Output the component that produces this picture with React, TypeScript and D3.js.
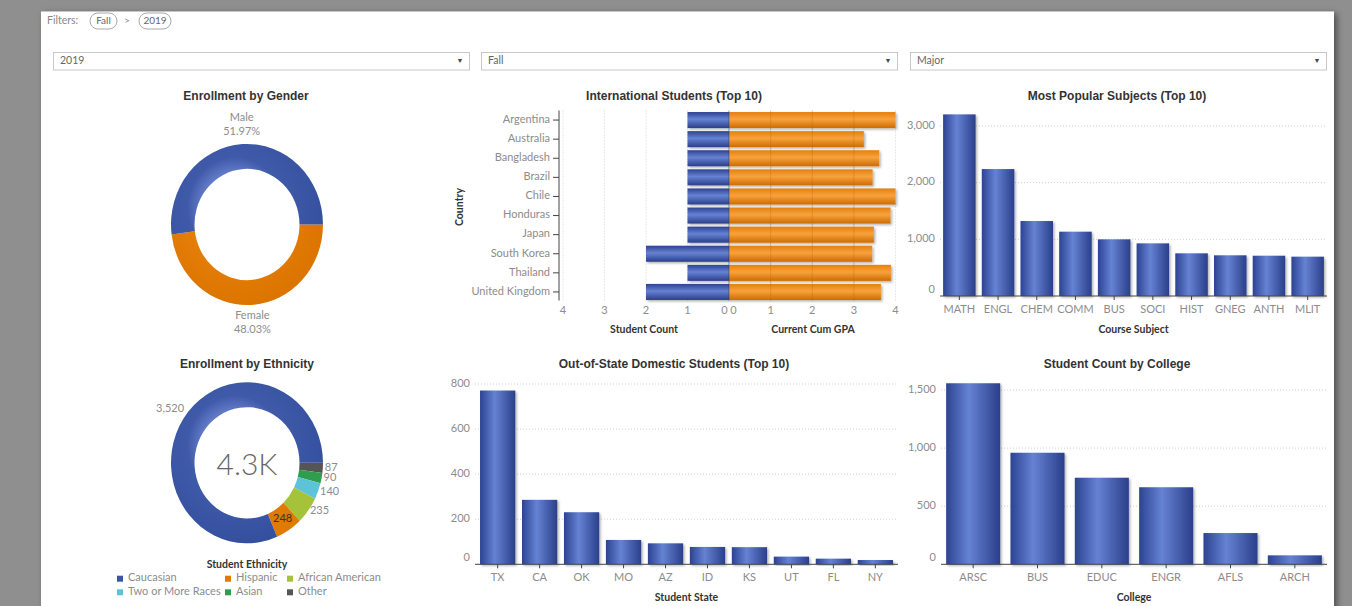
import * as d3 from "d3";

const W = 1352;
const H = 606;

// ---- data ----
const genderNames = ["Female", "Male"];
const genderShares = [48.03, 51.97];

const ethnicityNames = ["Other", "Asian", "Two or More Races", "African American", "Hispanic", "Caucasian"];
const ethnicityCounts = [87, 90, 140, 235, 248, 3520];
const ethnicityLegend = ["Caucasian", "Hispanic", "African American", "Two or More Races", "Asian", "Other"];
const ethnicityTotalLabel = "4.3K";

const countries = ["Argentina", "Australia", "Bangladesh", "Brazil", "Chile", "Honduras", "Japan", "South Korea", "Thailand", "United Kingdom"];
const countryCounts = [1, 1, 1, 1, 1, 1, 1, 2, 1, 2];
const countryGpa = [4.0, 3.24, 3.61, 3.45, 4.0, 3.88, 3.48, 3.44, 3.89, 3.65];
const intlTicks = [0, 1, 2, 3, 4];

const subjects = ["MATH", "ENGL", "CHEM", "COMM", "BUS", "SOCI", "HIST", "GNEG", "ANTH", "MLIT"];
const subjectCounts = [3205, 2240, 1323, 1135, 1000, 929, 753, 718, 711, 694];
const subjectTicks = [0, 1000, 2000, 3000];

const states = ["TX", "CA", "OK", "MO", "AZ", "ID", "KS", "UT", "FL", "NY"];
const stateCounts = [771, 286, 231, 108, 93, 77, 76, 34, 25, 19];
const stateTicks = [0, 200, 400, 600, 800];

const colleges = ["ARSC", "BUS", "EDUC", "ENGR", "AFLS", "ARCH"];
const collegeCounts = [1558, 960, 745, 663, 269, 77];
const collegeTicks = [0, 500, 1000, 1500];

const filterPills = ["Fall", "2019"];
const dropdowns = ["2019", "Fall", "Major"];

// ---- styling ----
const TITLE_FONT = "'Liberation Sans', Arial, sans-serif";
const LABEL_FONT = "Lato, 'Open Sans', sans-serif";
const tickColor = "#8c8c8c";
const titleColor = "#333";
const BLUE = "#3a55a5";
const ethnicityColors: Record<string, string> = {
  Caucasian: BLUE,
  Hispanic: "#e07a00",
  "African American": "#a4c23a",
  "Two or More Races": "#5cc3d8",
  Asian: "#2f9d4e",
  Other: "#555555",
};
const fmt = d3.format(",");

function ChartTitle({ x, y, text }: { x: number; y: number; text: string }) {
  return (
    <text x={x} y={y} textAnchor="middle" dominantBaseline="middle" fontFamily={TITLE_FONT}
      fontWeight={700} fontSize={12} fill={titleColor}>{text}</text>
  );
}

function AxisTitle({ x, y, text, rotate }: { x: number; y: number; text: string; rotate?: boolean }) {
  return (
    <text x={x} y={y} textAnchor="middle" dominantBaseline="middle" fontFamily={LABEL_FONT}
      fontWeight={700} fontSize={10.5} fill={titleColor}
      transform={rotate ? `rotate(-90 ${x} ${y})` : undefined}>{text}</text>
  );
}

function GenderDonut() {
  const cx = 247, cy = 224.5, ro = 76, ri = 52.5, sy = 1.06;
  const pie = d3.pie<number>().sort(null).startAngle(Math.PI / 2).endAngle(Math.PI / 2 + 2 * Math.PI);
  const arcs = pie(genderShares);
  const arc = d3.arc<d3.PieArcDatum<number>>().innerRadius(ri).outerRadius(ro);
  const fills = ["url(#donutOrange)", "url(#donutBlue)"];
  return (
    <g>
      <ChartTitle x={246} y={97} text="Enrollment by Gender" />
      <g transform={`translate(${cx},${cy}) scale(1,${sy})`}>
        {arcs.map((a, i) => (
          <path key={i} d={arc(a) || ""} fill={fills[i]} />
        ))}
      </g>
      {arcs.map((a, i) => {
        const mid = (a.startAngle + a.endAngle) / 2;
        const r = ro + 11;
        const lx = cx + r * Math.sin(mid);
        const ly = cy - r * Math.cos(mid) * sy;
        const top = Math.cos(mid) > 0;
        const y1 = top ? ly - 14 : ly;
        return (
          <g key={i} fontFamily={LABEL_FONT} fontSize={11} fill={tickColor} textAnchor="middle">
            <text x={lx} y={y1} dominantBaseline="middle">{genderNames[i]}</text>
            <text x={lx} y={y1 + 14} dominantBaseline="middle">{genderShares[i].toFixed(2)}%</text>
          </g>
        );
      })}
    </g>
  );
}

function EthnicityDonut() {
  const cx = 247, cy = 462.8, ro = 76, ri = 52.5, sy = 1.06;
  const pie = d3.pie<number>().sort(null).startAngle(Math.PI / 2).endAngle(Math.PI / 2 + 2 * Math.PI);
  const arcs = pie(ethnicityCounts);
  const arc = d3.arc<d3.PieArcDatum<number>>().innerRadius(ri).outerRadius(ro);
  const legendCols = [117, 225, 287];
  const legendRows = [578.7, 592.3];
  return (
    <g>
      <ChartTitle x={247} y={365} text="Enrollment by Ethnicity" />
      <g transform={`translate(${cx},${cy}) scale(1,${sy})`}>
        {arcs.map((a, i) => {
          const name = ethnicityNames[i];
          return <path key={i} d={arc(a) || ""} fill={name === "Caucasian" ? "url(#donutBlue)" : ethnicityColors[name]} />;
        })}
      </g>
      <text x={cx} y={cy} textAnchor="middle" dominantBaseline="central" fontFamily={LABEL_FONT}
        fontWeight={300} fontSize={30} fill="#666">{ethnicityTotalLabel}</text>
      {arcs.map((a, i) => {
        const name = ethnicityNames[i];
        const mid = (a.startAngle + a.endAngle) / 2;
        const big = a.endAngle - a.startAngle > Math.PI;
        const inside = name === "Hispanic";
        const r = big ? ro + 16 : inside ? (ro + ri) / 2 : ro + 2;
        const lx = cx + r * Math.sin(mid);
        const ly = cy - r * Math.cos(mid) * sy;
        return (
          <text key={i} x={lx} y={ly} dominantBaseline="middle" textAnchor={big || inside ? "middle" : "start"}
            fontFamily={LABEL_FONT} fontSize={11} fill={inside ? "#333" : tickColor}>
            {fmt(ethnicityCounts[i])}
          </text>
        );
      })}
      <AxisTitle x={247} y={565} text="Student Ethnicity" />
      {ethnicityLegend.map((name, i) => {
        const x = legendCols[i % 3];
        const y = legendRows[Math.floor(i / 3)];
        return (
          <g key={name}>
            <rect x={x} y={y - 3} width={6} height={6} fill={ethnicityColors[name]} />
            <text x={x + 11} y={y} dominantBaseline="middle" fontFamily={LABEL_FONT} fontSize={11} fill={tickColor}>{name}</text>
          </g>
        );
      })}
    </g>
  );
}

function InternationalChart() {
  const axisX = 559;
  const mid = 729;
  const y = d3.scaleBand<string>().domain(countries).range([110.5, 301.5]).paddingInner(0.16).paddingOuter(0.08);
  const xL = d3.scaleLinear().domain([0, 4]).range([mid, 563]);
  const xR = d3.scaleLinear().domain([0, 4]).range([mid, 895.5]);
  const gridTop = 110.5, gridBottom = 300.5;
  return (
    <g>
      <ChartTitle x={674} y={97} text="International Students (Top 10)" />
      {intlTicks.filter((t) => t > 0).map((t) => (
        <g key={t} stroke="#d4d4d4" strokeDasharray="1,2">
          <line x1={xL(t)} x2={xL(t)} y1={gridTop} y2={gridBottom} />
          <line x1={xR(t)} x2={xR(t)} y1={gridTop} y2={gridBottom} />
        </g>
      ))}
      {countries.map((c, i) => (
        <g key={c} filter="url(#barShadow)">
          <rect x={xL(countryCounts[i])} y={y(c)} width={mid - xL(countryCounts[i])} height={y.bandwidth()} fill="url(#blueH)" />
          <rect x={mid} y={y(c)} width={xR(countryGpa[i]) - mid} height={y.bandwidth()} fill="url(#orangeH)" />
        </g>
      ))}
      {intlTicks.filter((t) => t > 0 && t < 4).map((t) => (
        <line key={t} x1={xR(t)} x2={xR(t)} y1={gridTop} y2={gridBottom} stroke="#b8650a" strokeOpacity={0.3} />
      ))}
      <line x1={mid} x2={mid} y1={gridTop} y2={gridBottom} stroke="#333" strokeOpacity={0.5} />
      <line x1={axisX} x2={axisX} y1={gridTop} y2={gridBottom} stroke="#444" />
      {countries.map((c) => {
        const cy = (y(c) || 0) + y.bandwidth() / 2;
        return (
          <g key={c}>
            <line x1={axisX - 6} x2={axisX} y1={cy} y2={cy} stroke="#444" />
            <text x={axisX - 9} y={cy} textAnchor="end" dominantBaseline="middle" fontFamily={LABEL_FONT}
              fontSize={11} fill={tickColor}>{c}</text>
          </g>
        );
      })}
      {intlTicks.map((t) => (
        <g key={t} fontFamily={LABEL_FONT} fontSize={11} fill={tickColor} textAnchor="middle">
          <text x={xL(t) - (t === 0 ? 4.5 : 0)} y={311} dominantBaseline="middle">{t}</text>
          <text x={xR(t) + (t === 0 ? 4.5 : 0)} y={311} dominantBaseline="middle">{t}</text>
        </g>
      ))}
      <AxisTitle x={460} y={207} text="Country" rotate />
      <AxisTitle x={644} y={330} text="Student Count" />
      <AxisTitle x={813} y={330} text="Current Cum GPA" />
    </g>
  );
}

interface BarChartProps {
  title: string;
  titleX: number;
  titleY: number;
  cats: string[];
  values: number[];
  ticks: number[];
  x0: number;
  x1: number;
  yBase: number;
  yTopTick: number;
  outer: number;
  xTitle: string;
}

function BarChart({ title, titleX, titleY, cats, values, ticks, x0, x1, yBase, yTopTick, outer, xTitle }: BarChartProps) {
  const x = d3.scaleBand<string>().domain(cats).range([x0, x1]).paddingInner(0.16).paddingOuter(outer);
  const maxTick = ticks[ticks.length - 1];
  const y = d3.scaleLinear().domain([0, maxTick]).range([yBase, yTopTick]);
  return (
    <g>
      <ChartTitle x={titleX} y={titleY} text={title} />
      {ticks.filter((t) => t > 0).map((t) => (
        <line key={t} x1={x0} x2={x1} y1={y(t)} y2={y(t)} stroke="#cfcfcf" strokeDasharray="1,2" />
      ))}
      {ticks.map((t) => (
        <text key={t} x={x0 - 5} y={y(t) - (t === 0 ? 6 : 0)} textAnchor="end" dominantBaseline="middle"
          fontFamily={LABEL_FONT} fontSize={11} fill={tickColor}>{fmt(t)}</text>
      ))}
      {cats.map((c, i) => (
        <rect key={c} x={x(c)} y={y(values[i])} width={x.bandwidth()} height={yBase - y(values[i])}
          fill="url(#blueV)" filter="url(#barShadow)" />
      ))}
      <line x1={x0} x2={x1} y1={yBase} y2={yBase} stroke="#444" />
      {cats.map((c) => {
        const cx = (x(c) || 0) + x.bandwidth() / 2;
        return (
          <g key={c}>
            <line x1={cx} x2={cx} y1={yBase} y2={yBase + 4} stroke="#444" />
            <text x={cx} y={yBase + 14} textAnchor="middle" dominantBaseline="middle" fontFamily={LABEL_FONT}
              fontSize={11} fill={tickColor}>{c}</text>
          </g>
        );
      })}
      <AxisTitle x={(x0 + x1) / 2} y={yBase + 34} text={xTitle} />
    </g>
  );
}

function Header() {
  const pillX = [90, 139];
  const pillW = [27, 32];
  const ddX = [53, 481, 910];
  const ddW = 416;
  return (
    <g fontFamily={LABEL_FONT}>
      <text x={47} y={21} dominantBaseline="middle" fontSize={10.5} fill="#888">Filters:</text>
      {filterPills.map((p, i) => (
        <g key={p}>
          <rect x={pillX[i]} y={13} width={pillW[i]} height={16} rx={8} fill="#fff" stroke="#aaa" />
          <text x={pillX[i] + pillW[i] / 2} y={21} textAnchor="middle" dominantBaseline="middle" fontSize={10} fill="#666">{p}</text>
        </g>
      ))}
      <text x={127} y={21} textAnchor="middle" dominantBaseline="middle" fontSize={10} fill="#888">&gt;</text>
      {dropdowns.map((d, i) => (
        <g key={d}>
          <rect x={ddX[i] + 0.5} y={52.5} width={ddW} height={17.5} fill="#fff" stroke="#c8c8c8" />
          <text x={ddX[i] + 7} y={61.5} dominantBaseline="middle" fontSize={10.5} fill="#666">{d}</text>
          <text x={ddX[i] + ddW - 9} y={61.5} textAnchor="middle" dominantBaseline="middle" fontSize={7} fill="#444">▼</text>
        </g>
      ))}
    </g>
  );
}

export default function App() {
  return (
    <div style={{ position: "absolute", left: 0, top: 0, width: W, height: H, overflow: "hidden" }}>
      <svg width={W} height={H} style={{ display: "block" }}>
        <defs>
          <linearGradient id="blueV" x1="0" x2="1" y1="0" y2="0">
            <stop offset="0" stopColor="#2c4392" />
            <stop offset="0.42" stopColor="#6682d3" />
            <stop offset="1" stopColor="#2a3f8a" />
          </linearGradient>
          <linearGradient id="blueH" x1="0" x2="0" y1="0" y2="1">
            <stop offset="0" stopColor="#2c4392" />
            <stop offset="0.45" stopColor="#6682d3" />
            <stop offset="1" stopColor="#2a3f8a" />
          </linearGradient>
          <linearGradient id="orangeH" x1="0" x2="0" y1="0" y2="1">
            <stop offset="0" stopColor="#e3810f" />
            <stop offset="0.45" stopColor="#f8a23d" />
            <stop offset="1" stopColor="#cc6c02" />
          </linearGradient>
          <radialGradient id="donutBlue" gradientUnits="userSpaceOnUse" cx={-12} cy={-16} r={95}>
            <stop offset="0" stopColor="#8ea1dc" />
            <stop offset="0.36" stopColor="#6079c6" />
            <stop offset="0.5" stopColor="#3f5aa8" />
            <stop offset="1" stopColor="#334f9e" />
          </radialGradient>
          <radialGradient id="donutOrange" gradientUnits="userSpaceOnUse" cx={-12} cy={-16} r={95}>
            <stop offset="0" stopColor="#f0a550" />
            <stop offset="0.5" stopColor="#e47f08" />
            <stop offset="1" stopColor="#dc7400" />
          </radialGradient>
          <filter id="barShadow" x="-20%" y="-20%" width="140%" height="140%">
            <feDropShadow dx="1.5" dy="1.5" stdDeviation="1.2" floodColor="#000" floodOpacity="0.3" />
          </filter>
          <filter id="panelShadow" x="-5%" y="-5%" width="110%" height="110%">
            <feDropShadow dx="3" dy="2" stdDeviation="3" floodColor="#000" floodOpacity="0.45" />
          </filter>
        </defs>
        <rect x={0} y={0} width={W} height={H} fill="#8f8f8f" />
        <rect x={41} y={11.5} width={1293} height={H} fill="#fff" filter="url(#panelShadow)" />
        <Header />
        <GenderDonut />
        <InternationalChart />
        <BarChart title="Most Popular Subjects (Top 10)" titleX={1117} titleY={97} cats={subjects} values={subjectCounts}
          ticks={subjectTicks} x0={940} x1={1327} yBase={296} yTopTick={126} outer={0.08} xTitle="Course Subject" />
        <EthnicityDonut />
        <BarChart title="Out-of-State Domestic Students (Top 10)" titleX={674} titleY={365} cats={states} values={stateCounts}
          ticks={stateTicks} x0={475} x1={898} yBase={564.3} yTopTick={384} outer={0.12} xTitle="Student State" />
        <BarChart title="Student Count by College" titleX={1117} titleY={365} cats={colleges} values={collegeCounts}
          ticks={collegeTicks} x0={941} x1={1327} yBase={564.3} yTopTick={390} outer={0.08} xTitle="College" />
      </svg>
    </div>
  );
}
